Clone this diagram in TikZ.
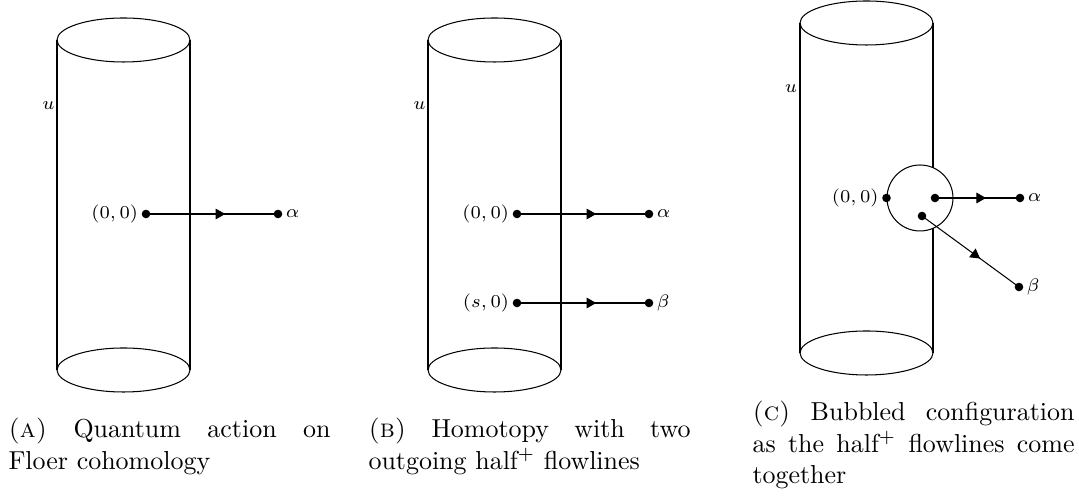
\documentclass[tikz,border=0pt]{standalone}
\usetikzlibrary{arrows.meta,decorations.markings}
\newcommand{\capfig}[1]{\parbox[t]{124pt}{\hyphenpenalty=10000\exhyphenpenalty=10000\tolerance=9999\emergencystretch=20pt #1}}
\begin{document}
\begin{tikzpicture}[x=0.385pt,y=-0.385pt,
  dot/.style={circle,fill=black,inner sep=0pt,minimum size=3.3pt},
  lbl/.style={inner sep=1pt,font=\scriptsize},
  flow/.style={postaction={decorate},decoration={markings,mark=at position 0.6 with {\arrow{Triangle[length=3.7pt,width=4.1pt]}}}},
  capbox/.style={anchor=base west,inner sep=0pt,font=\normalsize},
  cylline/.style={line width=0.4pt},
  cylinder/.pic={
    \draw[cylline] (0,0) ellipse [x radius=66.5,y radius=22];
    \draw[cylline] (-66.5,0) -- (-66.5,330);
    \draw[cylline] (66.5,0) -- (66.5,330);
    \draw[cylline] (0,330) ellipse [x radius=66.5,y radius=22];
  }]
\useasboundingbox (0,0) rectangle (1079,496);

% ---------- Panel A ----------
\pic (cylA) at (123.5,40) {cylinder};
\node[lbl] (uA) at (48.5,106) {$u$};
\node[dot] (a0) at (146,214) {};
\node[dot] (a1) at (278,214) {};
\draw[flow] (a0.center) -- (a1.center);
\node[lbl,anchor=east] (a0l) at (a0.west) {$(0,0)$};
\node[lbl,anchor=west] (a1l) at (a1.east) {$\alpha$};
\node[capbox] (capA) at (8,438) {\capfig{\textsc{(a)}\ Quantum action on Floer cohomology}};

% ---------- Panel B ----------
\pic (cylB) at (494.5,40) {cylinder};
\node[lbl] (uB) at (419.5,106) {$u$};
\node[dot] (b0) at (517,214) {};
\node[dot] (b1) at (649,214) {};
\draw[flow] (b0.center) -- (b1.center);
\node[lbl,anchor=east] (b0l) at (b0.west) {$(0,0)$};
\node[lbl,anchor=west] (b1l) at (b1.east) {$\alpha$};
\node[dot] (b2) at (517,303) {};
\node[dot] (b3) at (649,303) {};
\draw[flow] (b2.center) -- (b3.center);
\node[lbl,anchor=east] (b2l) at (b2.west) {$(s,0)$};
\node[lbl,anchor=west] (b3l) at (b3.east) {$\beta$};
\node[capbox] (capB) at (368,438) {\capfig{\textsc{(b)}\ Homotopy with two outgoing half$^+$ flowlines}};

% ---------- Panel C ----------
\pic (cylC) at (866.5,23) {cylinder};
\node[lbl] (uC) at (791,89) {$u$};
\node[circle,draw,fill=white,minimum size=25.4pt,inner sep=0pt] (bub) at (920,198) {};
\node[dot] (c0) at (bub.west) {};
\node[dot] (c1) at (935,198) {};
\node[dot] (c2) at (1020,198) {};
\draw[flow] (c1.center) -- (c2.center);
\node[dot] (c3) at (922,216) {};
\node[dot] (c4) at (1019,287) {};
\draw[flow] (c3.center) -- (c4.center);
\node[lbl,anchor=east] (c0l) at (c0.west) {$(0,0)$};
\node[lbl,anchor=west] (c2l) at (c2.east) {$\alpha$};
\node[lbl,anchor=west] (c4l) at (c4.east) {$\beta$};
\node[capbox] (capC) at (752,421) {\capfig{\textsc{(c)}\ Bubbled configuration as the half$^+$ flowlines come together}};
\end{tikzpicture}
\end{document}
